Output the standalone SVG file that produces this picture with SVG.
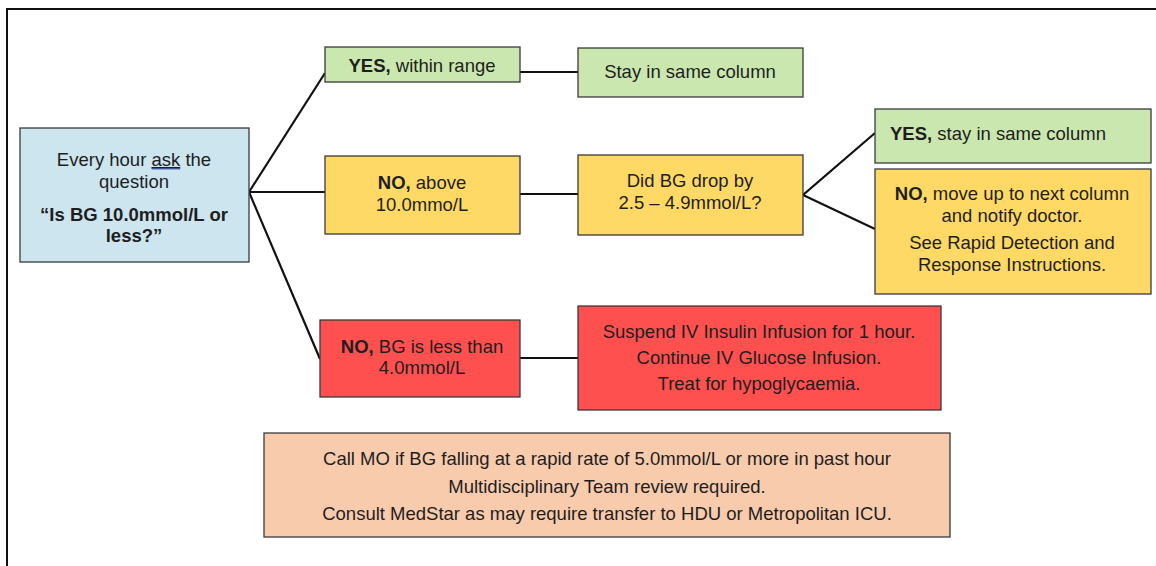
<svg xmlns="http://www.w3.org/2000/svg" width="1156" height="566" viewBox="0 0 1156 566">
<style>
.box{stroke:#3a3a3a;stroke-width:1.3}
.blue{fill:#cce5ee}.green{fill:#cbe7b0}.yellow{fill:#ffd966}.red{fill:#ff5050}.peach{fill:#f8cbad}
text{font-family:"Liberation Sans",Arial,sans-serif;font-size:18.5px;fill:#1e1e1e;text-anchor:middle}
.b{font-weight:bold}
.conn{stroke:#111;stroke-width:2.2;fill:none}
</style>
<rect x="7" y="9" width="1160" height="570" fill="#fff" stroke="#111" stroke-width="2"/>
<g id="connectors">
<line class="conn" x1="249" y1="192" x2="325" y2="73"/>
<line class="conn" x1="249" y1="192" x2="325" y2="192"/>
<line class="conn" x1="249" y1="192" x2="320" y2="359"/>
<line class="conn" x1="520" y1="72" x2="578" y2="72"/>
<line class="conn" x1="520" y1="194" x2="578" y2="194"/>
<line class="conn" x1="520" y1="358" x2="578" y2="358"/>
<polyline class="conn" points="875,133 803,195 875,229"/>
</g>
<g id="start">
<rect class="box blue" x="20" y="128" width="229" height="134"/>
<text x="134" y="166">Every hour <tspan text-decoration="underline">ask</tspan> the</text>
<line x1="152" y1="169" x2="180" y2="169" stroke="#4a6fd8" stroke-width="1"/>
<text x="134" y="188">question</text>
<text class="b" x="134" y="221">“Is BG 10.0mmol/L or</text>
<text class="b" x="134" y="242">less?”</text>
</g>
<g id="yes-range">
<rect class="box green" x="325" y="47" width="195" height="35"/>
<text x="422" y="72"><tspan class="b">YES,</tspan> within range</text>
</g>
<g id="stay">
<rect class="box green" x="578" y="48" width="225" height="49"/>
<text x="690" y="78">Stay in same column</text>
</g>
<g id="no-above">
<rect class="box yellow" x="325" y="156" width="195" height="78"/>
<text x="422" y="189"><tspan class="b">NO,</tspan> above</text>
<text x="422" y="211">10.0mmo/L</text>
</g>
<g id="did-drop">
<rect class="box yellow" x="578" y="155" width="225" height="80"/>
<text x="690" y="187">Did BG drop by</text>
<text x="690" y="209">2.5 – 4.9mmol/L?</text>
</g>
<g id="yes-stay">
<rect class="box green" x="875" y="109" width="276" height="54"/>
<text x="998" y="140"><tspan class="b">YES,</tspan> stay in same column</text>
</g>
<g id="no-move">
<rect class="box yellow" x="875" y="169" width="276" height="125"/>
<text x="1012" y="200"><tspan class="b">NO,</tspan> move up to next column</text>
<text x="1012" y="222">and notify doctor.</text>
<text x="1012" y="249">See Rapid Detection and</text>
<text x="1012" y="271">Response Instructions.</text>
</g>
<g id="no-less">
<rect class="box red" x="320" y="320" width="200" height="77"/>
<text x="422" y="353"><tspan class="b">NO,</tspan> BG is less than</text>
<text x="422" y="374">4.0mmol/L</text>
</g>
<g id="suspend">
<rect class="box red" x="578" y="306" width="363" height="104"/>
<text x="759" y="338">Suspend IV Insulin Infusion for 1 hour.</text>
<text x="759" y="364">Continue IV Glucose Infusion.</text>
<text x="759" y="390">Treat for hypoglycaemia.</text>
</g>
<g id="call-mo">
<rect class="box peach" x="264" y="433" width="686" height="104"/>
<text x="607" y="465">Call MO if BG falling at a rapid rate of 5.0mmol/L or more in past hour</text>
<text x="607" y="493">Multidisciplinary Team review required.</text>
<text x="607" y="520">Consult MedStar as may require transfer to HDU or Metropolitan ICU.</text>
</g>
</svg>
